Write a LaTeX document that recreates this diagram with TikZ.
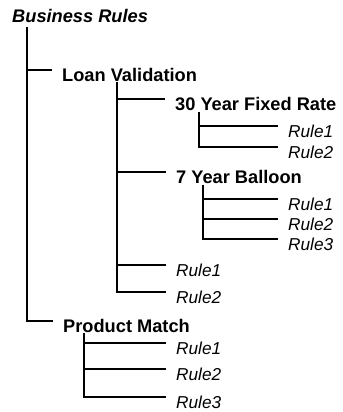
\documentclass[tikz,border=0pt]{standalone}
\usepackage{fontspec}
\setmainfont{Liberation Sans}
\begin{document}
\begin{tikzpicture}[x=1bp,y=-1bp,
  head/.style={anchor=base west, inner sep=0pt, font=\fontsize{18.3}{20}\selectfont\bfseries},
  rootlbl/.style={anchor=base west, inner sep=0pt, font=\fontsize{18.3}{20}\selectfont\bfseries\itshape},
  leaf/.style={anchor=base west, inner sep=0pt, font=\fontsize{17.3}{20}\selectfont\itshape},
  wire/.style={line width=1.2bp, black}]
\useasboundingbox (0,0) rectangle (343,412);
\node[rootlbl] (br) at (12,22) {Business Rules};
\node[head] (lv) at (62,81) {Loan Validation};
\node[head] (fx) at (175,110) {30 Year Fixed Rate};
\node[leaf] (fx1) at (288,137) {Rule1};
\node[leaf] (fx2) at (288,158) {Rule2};
\node[head] (bl) at (176,183) {7 Year Balloon};
\node[leaf] (bl1) at (288,210) {Rule1};
\node[leaf] (bl2) at (288,230) {Rule2};
\node[leaf] (bl3) at (288,250) {Rule3};
\node[leaf] (lv1) at (176,276) {Rule1};
\node[leaf] (lv2) at (176,303) {Rule2};
\node[head] (pm) at (63,332) {Product Match};
\node[leaf] (pm1) at (176,354) {Rule1};
\node[leaf] (pm2) at (176,380) {Rule2};
\node[leaf] (pm3) at (176,408) {Rule3};
\coordinate (tbr) at (27,27);
\coordinate (tlv) at (117,82);
\coordinate (tfx) at (199,112);
\coordinate (tbl) at (203,185);
\coordinate (tpm) at (84,333);
\foreach \s/\c in {tbr/lv, tbr/pm, tlv/fx, tlv/bl, tlv/lv1, tlv/lv2, tfx/fx1, tfx/fx2, tbl/bl1, tbl/bl2, tbl/bl3, tpm/pm1, tpm/pm2, tpm/pm3}
  \draw[wire] (\s) |- ([shift={(-10bp,11bp)}]\c.base west);
\end{tikzpicture}
\end{document}
